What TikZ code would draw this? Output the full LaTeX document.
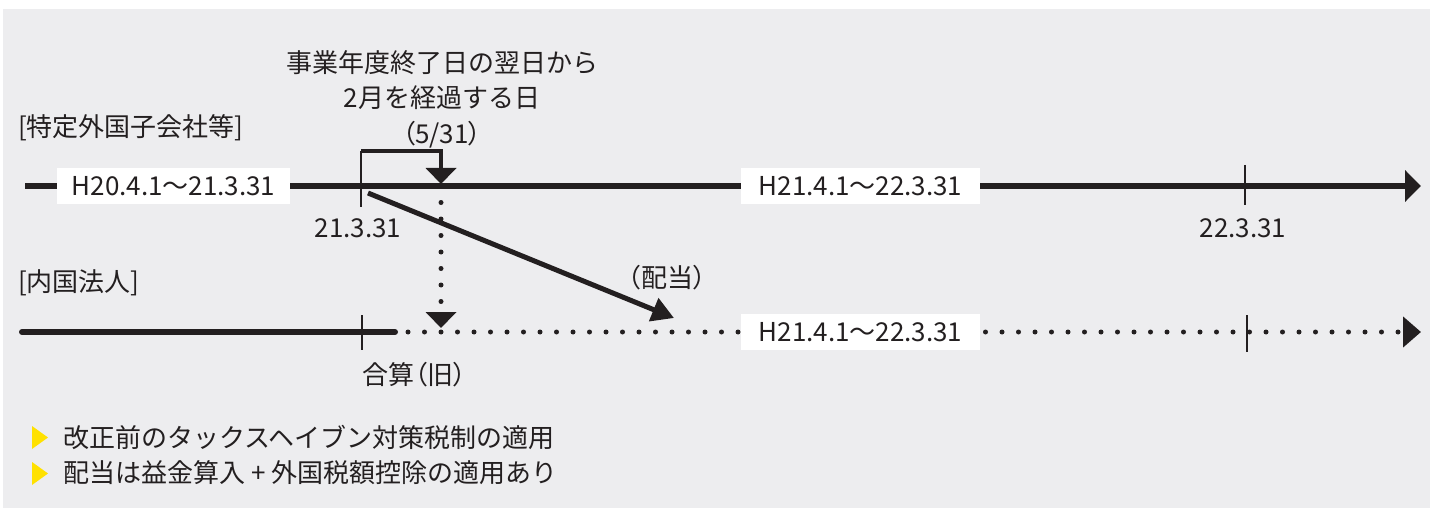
\documentclass[tikz,border=0pt]{standalone}
\usepackage{fontspec}
\setmainfont{Noto Sans CJK JP}
\newfontfamily\pfont[RawFeature=+palt]{Noto Sans CJK JP}
\usetikzlibrary{arrows.meta}
\definecolor{bg}{HTML}{EDEDEF}
\definecolor{ink}{HTML}{231F20}
\definecolor{bul}{HTML}{FFE100}
\begin{document}
\begin{tikzpicture}[x=1pt,y=-1pt,
  txt/.style={font=\fontsize{26}{30}\selectfont, text=ink, inner sep=0pt},
  box/.style={txt, fill=white, minimum height=36pt},
  tl/.style={draw=ink, line width=6pt},
  dl/.style={draw=ink, line width=5pt, line cap=round, dash pattern=on 0pt off 16.5pt},
  tk/.style={draw=ink, line width=1.5pt},
  bigtip/.style={-{Triangle[length=16pt,width=31pt]}},
]
\useasboundingbox (0,0) rectangle (1430,508);
\fill[bg] (3,9) rectangle (1430,508);

% coordinates
\coordinate (t0) at (25,186);
\coordinate (t1) at (1421,186);
\coordinate (b0) at (22,332);
\coordinate (bm) at (395,332);
\coordinate (bd) at (408,332);
\coordinate (b1) at (1421,332);
\coordinate (v0) at (441,186);
\coordinate (v1) at (441,328);
\coordinate (k0) at (361,151);
\coordinate (k1) at (441,151);
\coordinate (k2) at (441,184);
\coordinate (kb) at (361,207);
\coordinate (d0) at (368,193);
\coordinate (d1) at (674,318);
\coordinate (ta) at (1245,165);
\coordinate (tb) at (1245,205);
\coordinate (ba) at (362,315);
\coordinate (bb) at (362,350);
\coordinate (ca) at (1247,315);
\coordinate (cb) at (1247,352);

% timelines
\draw[tl, bigtip] (t0) -- (t1);
\draw[tl, line cap=round] (b0) -- (bm);
\draw[dl, -{Triangle[length=18pt,width=30pt]}] (bd) -- (b1);

% ticks
\draw[tk] (k0) -- (kb);
\draw[tk] (ta) -- (tb);
\draw[tk] (ba) -- (bb);
\draw[tk] (ca) -- (cb);

% bracket arrow
\draw[draw=ink, line width=4pt, -{Triangle[length=16pt,width=30pt]}] (k0) -- (k1) -- (k2);
% dotted vertical
\draw[dl, -{Triangle[length=16pt,width=30pt]}] (v0) -- (v1);
% dividend arrow
\draw[draw=ink, line width=5pt, -{Triangle[length=22pt,width=24pt]}] (d0) -- (d1);

% boxes
\node[box, minimum width=233pt] (p1) at (173.5,186) {H20.4.1～21.3.31};
\node[box, minimum width=239pt] (p2) at (860.5,186) {H21.4.1～22.3.31};
\node[box, minimum width=239pt] (p3) at (860.5,332) {H21.4.1～22.3.31};

% labels
\node[txt, align=center, font=\fontsize{26}{35.5}\selectfont] (hd) at (442,99)
  {事業年度終了日の翌日から\\2月を経過する日\\{\pfont （5/31）}};
\node[txt, anchor=west] (l1) at (18,128) {[特定外国子会社等]};
\node[txt, anchor=west] (l2) at (18,283) {[内国法人]};
\node[txt] (d21) at (358,228) {21.3.31};
\node[txt] (d22) at (1243,228) {22.3.31};
\node[txt] (hai) at (667,278) {{\pfont （配当）}};
\node[txt, anchor=west] (gs) at (362,375) {合算{\pfont （旧）}};

% bullets
\fill[bul] (32,426) -- (48,437.5) -- (32,449) -- cycle;
\fill[bul] (32,462) -- (48,473.5) -- (32,485) -- cycle;
\node[txt, anchor=west] (n1) at (63,437) {改正前のタックスヘイブン対策税制の適用};
\node[txt, anchor=west] (n2) at (63,473) {配当は益金算入 + 外国税額控除の適用あり};
\end{tikzpicture}
\end{document}
